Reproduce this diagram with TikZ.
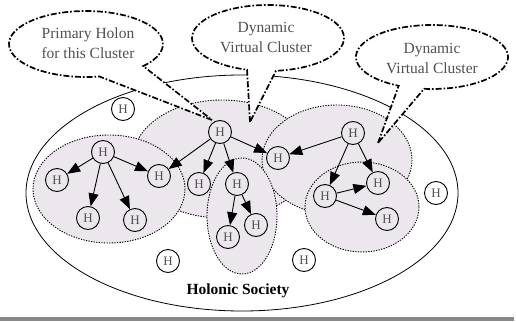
\documentclass[tikz,border=0pt]{standalone}
\usepackage{fontspec}
\setmainfont{Liberation Serif}
\usetikzlibrary{arrows.meta,calc}
\definecolor{clusterfill}{RGB}{235,231,236}
\definecolor{textgray}{RGB}{80,80,80}
\definecolor{bargray}{RGB}{136,136,136}
\begin{document}
\begin{tikzpicture}[x=1pt,y=-1pt,
  holon/.style={circle,draw,line width=0.9pt,minimum size=23pt,inner sep=0pt,
    text=textgray,font=\fontsize{13}{14}\selectfont},
  link/.style={line width=0.9pt,-{Triangle[length=13pt,width=10pt]}},
  society/.style={draw,line width=0.8pt},
  cluster/.style={fill=clusterfill,draw,line width=0.9pt,dash pattern=on 1.3pt off 1.3pt},
  balloon/.style={draw,fill=white,line width=1.7pt,
    dash pattern=on 6pt off 2pt on 1.6pt off 2pt},
  btext/.style={align=center,text=textgray,font=\fontsize{15.5}{20}\selectfont},
]
\useasboundingbox (0,0) rectangle (516,321);

% the society and its clusters
\draw[society] (242,193) ellipse [x radius=216, y radius=118];
\draw[cluster] (222,159) ellipse [x radius=89, y radius=59];
\draw[cluster] (337,160) ellipse [x radius=75, y radius=55];
\draw[cluster] (109,189) ellipse [x radius=76, y radius=54];
\draw[cluster] (242,216) ellipse [x radius=35, y radius=58];
\draw[cluster] (362,207) ellipse [x radius=57, y radius=45];

% callout balloons
\coordinate (tipA) at (212,120);
\coordinate (tipB) at (250,122);
\coordinate (tipC) at (378,143);
\coordinate (cA) at (86,44);
\coordinate (cB) at (268,38);
\coordinate (cC) at (432,57);
\draw[balloon] (tipA) -- ($(cA)+(80:77 and 33)$)
  arc[start angle=80, end angle=402, x radius=77, y radius=33] -- cycle;
\draw[balloon] (tipB) -- ($(cB)+(106:76 and 33)$)
  arc[start angle=106, end angle=444, x radius=76, y radius=33] -- cycle;
\draw[balloon] (tipC) -- ($(cC)+(116:76 and 32)$)
  arc[start angle=116, end angle=456, x radius=76, y radius=32] -- cycle;
\node[btext] (labA) at (88,43) {Primary Holon\\for this Cluster};
\node[btext] (labB) at (266,37) {Dynamic\\Virtual Cluster};
\node[btext] (labC) at (432,58) {Dynamic\\Virtual Cluster};

% holons
\node[holon] (p1) at (103,152) {H};
\node[holon] (l1) at (57,180) {H};
\node[holon] (l2) at (159,176) {H};
\node[holon] (l3) at (88,218) {H};
\node[holon] (l4) at (135,220) {H};
\node[holon] (p2) at (220,132) {H};
\node[holon] (m1) at (199,184) {H};
\node[holon] (m2) at (237,184) {H};
\node[holon] (m3) at (228,237) {H};
\node[holon] (m4) at (256,225) {H};
\node[holon] (r1) at (278,158) {H};
\node[holon] (p3) at (353,133) {H};
\node[holon] (r2) at (378,183) {H};
\node[holon] (r3) at (325,196) {H};
\node[holon] (r4) at (387,219) {H};
\node[holon] (s1) at (123,109) {H};
\node[holon] (s2) at (168,261) {H};
\node[holon] (s3) at (304,260) {H};
\node[holon] (s4) at (436,193) {H};

% links
\draw[link] (p1) -- (l1);
\draw[link] (p1) -- (l2);
\draw[link] (p1) -- (l3);
\draw[link] (p1) -- (l4);
\draw[link] (p2) -- (l2);
\draw[link] (p2) -- (m1);
\draw[link] (p2) -- (m2);
\draw[link] (p2) -- (r1);
\draw[link] (m2) -- (m3);
\draw[link] (m2) -- (m4);
\draw[link] (p3) -- (r1);
\draw[link] (p3) -- (r2);
\draw[link] (p3) -- (r3);
\draw[link] (r3) -- (r2);
\draw[link] (r3) -- (r4);

\node[font=\bfseries\fontsize{15.5}{18}\selectfont] (title) at (238,291) {Holonic Society};

% rule along the bottom
\fill[bargray] (0,316.5) rectangle (514,321);
\end{tikzpicture}
\end{document}
